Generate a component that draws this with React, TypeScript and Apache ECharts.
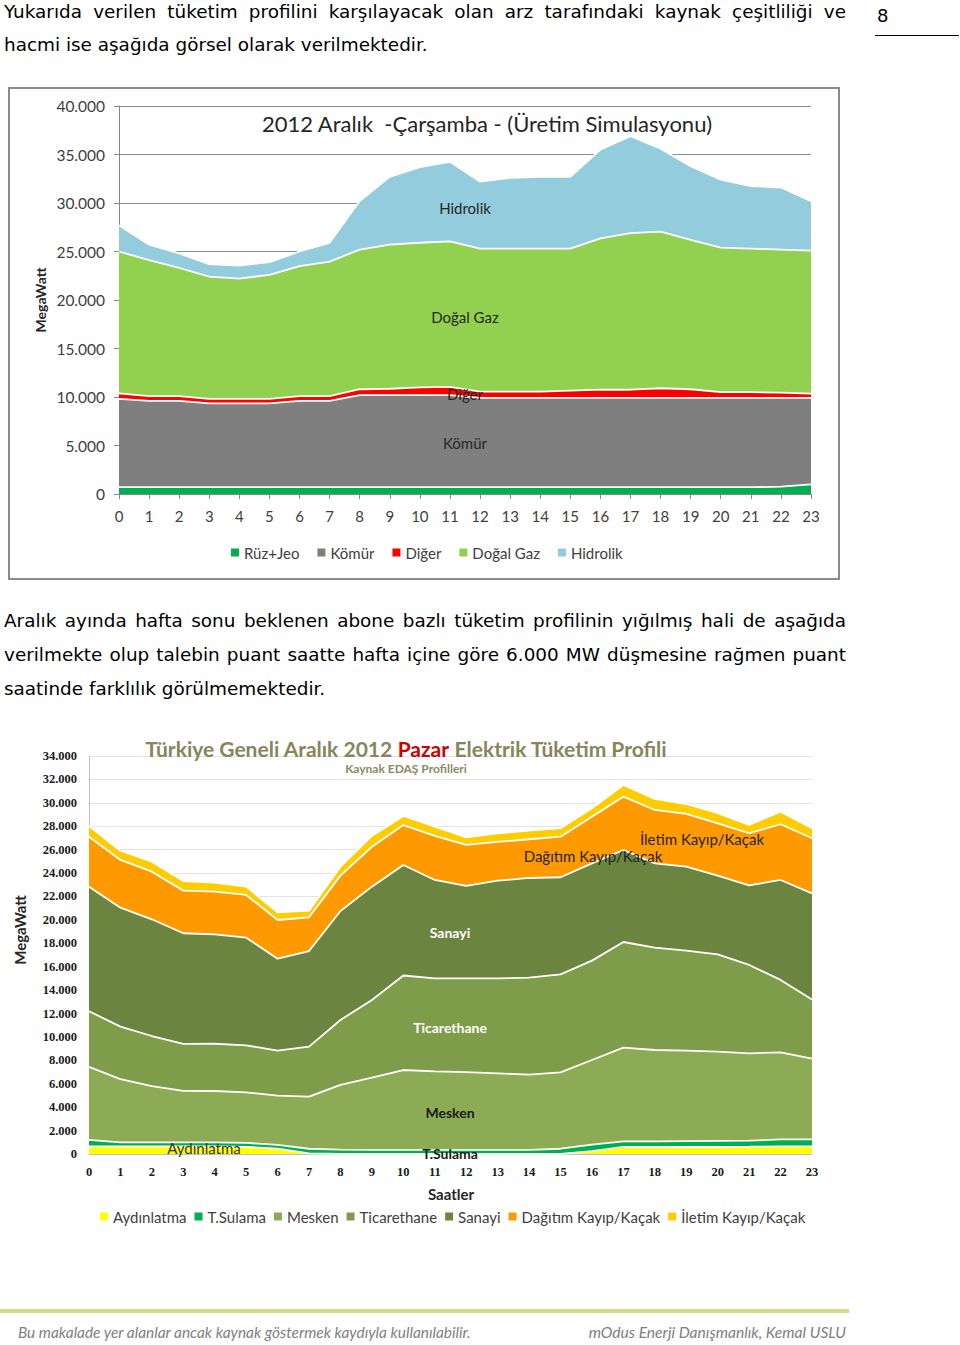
import React, { useEffect, useRef } from "react";
import * as echarts from "echarts";

// ---------- Chart 1 data: 2012 Aralık Çarşamba (Üretim Simulasyonu) ----------
const hours = ["0","1","2","3","4","5","6","7","8","9","10","11","12","13","14","15","16","17","18","19","20","21","22","23"];
const c1Names = ["Rüz+Jeo", "Kömür", "Diğer", "Doğal Gaz", "Hidrolik"];
const ruzJeo = [700,700,700,700,700,700,700,700,700,700,700,700,700,700,700,700,700,700,700,700,700,700,750,1000];
const komur = [9100,8900,8900,8650,8650,8650,8900,8900,9500,9500,9500,9500,9200,9200,9200,9200,9200,9200,9200,9200,9200,9200,9150,8900];
const diger = [580,500,500,450,450,450,500,500,600,650,800,850,650,650,650,750,850,850,1000,900,600,600,550,450];
const dogalGaz = [14620,14000,13200,12600,12400,12800,13400,13850,14400,14850,14900,15000,14750,14750,14750,14650,15600,16150,16150,15400,14900,14800,14750,14750];
const hidrolik = [2700,1600,1500,1300,1350,1300,1500,1950,5000,7000,7800,8200,6900,7300,7400,7400,9150,10000,8550,7600,7000,6450,6400,5100];
const c1Values = [ruzJeo, komur, diger, dogalGaz, hidrolik];
const c1Colors = ["#00B050", "#7F7F7F", "#FF0000", "#92D050", "#93CDDD"];

// ---------- Chart 2 data: Türkiye Geneli Aralık 2012 Pazar ----------
const c2Names = ["Aydınlatma", "T.Sulama", "Mesken", "Ticarethane", "Sanayi", "Dağıtım Kayıp/Kaçak", "İletim Kayıp/Kaçak"];
const aydinlatma = [650,650,650,650,650,600,450,50,0,0,0,0,0,0,0,0,250,600,600,600,600,620,650,650];
const tSulama = [550,350,350,350,350,350,330,400,380,350,350,350,350,350,350,450,550,480,480,500,520,520,600,600];
const mesken = [6250,5400,4800,4400,4380,4320,4200,4450,5520,6170,6825,6700,6650,6540,6430,6530,7230,8000,7805,7730,7620,7460,7440,6890];
const ticarethane = [4750,4480,4280,4000,4040,4010,3850,4270,5550,6630,8075,7960,8010,8120,8280,8370,8490,9030,8745,8540,8320,7550,6180,5060];
const sanayi = [10640,10160,9970,9460,9350,9200,7860,8170,9310,9690,9440,8400,7890,8340,8520,8290,8310,7860,7200,7180,6720,6800,8540,9070];
const dagitim = [4270,4080,4070,3640,3640,3650,3300,2880,3020,3410,3410,3760,3500,3310,3310,3470,3990,4560,4560,4500,4470,4450,4760,4700];
const iletim = [910,790,850,820,770,710,660,570,770,920,780,790,650,740,730,720,720,990,940,850,860,710,1080,860];
const c2Values = [aydinlatma, tSulama, mesken, ticarethane, sanayi, dagitim, iletim];
const c2Colors = ["#FFFF00", "#00B050", "#8DAA55", "#7E9C4A", "#6B8540", "#FF9900", "#FFCC00"];

const fmt = (v: number) => (v === 0 ? "0" : String(v).replace(/\B(?=(\d{3})+(?!\d))/g, "."));

function makeSeries(names: string[], values: number[][], colors: string[]) {
  return names.map((name, i) => ({
    name,
    type: "line",
    stack: "total",
    data: values[i],
    symbol: "none",
    z: 10 + (names.length - i),
    lineStyle: { color: "#ffffff", width: 1.8 },
    itemStyle: { color: colors[i] },
    areaStyle: { color: colors[i], opacity: 1 },
    emphasis: { disabled: true },
  }));
}

const option1: any = {
  animation: false,
  textStyle: { fontFamily: "Lato" },
  grid: { left: 111, right: 29, top: 19, bottom: 86 },
  legend: {
    left: 218,
    top: 453,
    icon: "rect",
    itemWidth: 8,
    itemHeight: 8,
    itemGap: 18,
    textStyle: { color: "#404040", fontSize: 15, fontFamily: "Lato" },
    data: c1Names,
  },
  xAxis: {
    type: "category",
    data: hours,
    boundaryGap: false,
    axisLine: { lineStyle: { color: "#868686" } },
    axisTick: { show: true, length: 5, lineStyle: { color: "#868686" } },
    axisLabel: { color: "#404040", fontSize: 15, margin: 14 },
    splitLine: { show: false },
  },
  yAxis: {
    type: "value",
    min: 0,
    max: 40000,
    interval: 5000,
    axisLine: { show: true, lineStyle: { color: "#868686" } },
    axisTick: { show: true, length: 5, lineStyle: { color: "#868686" } },
    axisLabel: { color: "#404040", fontSize: 15.5, margin: 14, formatter: fmt },
    splitLine: { lineStyle: { color: "#8C8C8C" } },
  },
  graphic: [
    { type: "rect", shape: { x: 1, y: 1, width: 830, height: 491 }, style: { fill: "none", stroke: "#8A8A8A", lineWidth: 2 }, z: 100 },
    { type: "text", x: 479, y: 36, z: 100, style: { text: "2012 Aralık  -Çarşamba - (Üretim Simulasyonu)", fill: "#262626", font: "22px Lato", align: "center", verticalAlign: "middle" } },
    { type: "text", x: 32, y: 213, rotation: Math.PI / 2, z: 100, style: { text: "MegaWatt", fill: "#262626", font: "bold 14px Lato", align: "center", verticalAlign: "middle" } },
    { type: "text", x: 457, y: 121, z: 100, style: { text: "Hidrolik", fill: "#262626", font: "15px Lato", align: "center", verticalAlign: "middle" } },
    { type: "text", x: 457, y: 230, z: 100, style: { text: "Doğal Gaz", fill: "#262626", font: "15px Lato", align: "center", verticalAlign: "middle" } },
    { type: "text", x: 457, y: 307, z: 100, style: { text: "Diğer", fill: "#262626", font: "15px Lato", align: "center", verticalAlign: "middle" } },
    { type: "text", x: 457, y: 356, z: 100, style: { text: "Kömür", fill: "#262626", font: "15px Lato", align: "center", verticalAlign: "middle" } },
  ],
  series: makeSeries(c1Names, c1Values, c1Colors),
};

const serif = '"Liberation Serif", "DejaVu Serif", serif';

const option2: any = {
  animation: false,
  textStyle: { fontFamily: "Lato" },
  grid: { left: 89, right: 48, top: 26, bottom: 86 },
  legend: {
    left: 95,
    top: 474,
    icon: "rect",
    itemWidth: 8,
    itemHeight: 8,
    itemGap: 8,
    textStyle: { color: "#404040", fontSize: 15, fontFamily: "Lato" },
    data: c2Names,
  },
  xAxis: {
    type: "category",
    data: hours,
    boundaryGap: false,
    axisLine: { lineStyle: { color: "#BFBFBF" } },
    axisTick: { show: false },
    axisLabel: { color: "#1a1a1a", fontSize: 12.5, fontWeight: "bold", fontFamily: serif, margin: 11 },
    splitLine: { show: false },
  },
  yAxis: {
    type: "value",
    min: 0,
    max: 34000,
    interval: 2000,
    axisLine: { show: true, lineStyle: { color: "#BFBFBF" } },
    axisTick: { show: false },
    axisLabel: { color: "#1a1a1a", fontSize: 12.5, fontWeight: "bold", fontFamily: serif, margin: 12, formatter: fmt },
    splitLine: { lineStyle: { color: "#E3E3E3" } },
  },
  graphic: [
    {
      type: "text", x: 406, y: 18, z: 100,
      style: {
        text: "{a|Türkiye Geneli Aralık 2012 }{b|Pazar}{a| Elektrik Tüketim Profili}",
        align: "center", verticalAlign: "middle",
        rich: {
          a: { fill: "#86865A", font: "bold 21px Lato" },
          b: { fill: "#CC0000", font: "bold 21px Lato" },
        },
      },
    },
    { type: "text", x: 406, y: 38, z: 100, style: { text: "Kaynak EDAŞ Profilleri", fill: "#8A8A66", font: "bold 12px Lato", align: "center", verticalAlign: "middle" } },
    { type: "text", x: 20, y: 200, rotation: Math.PI / 2, z: 100, style: { text: "MegaWatt", fill: "#262626", font: "bold 15px Lato", align: "center", verticalAlign: "middle" } },
    { type: "text", x: 451, y: 464, z: 100, style: { text: "Saatler", fill: "#262626", font: "bold 15px Lato", align: "center", verticalAlign: "middle" } },
    { type: "text", x: 450, y: 202, z: 100, style: { text: "Sanayi", fill: "#ffffff", font: "bold 14px Lato", align: "center", verticalAlign: "middle" } },
    { type: "text", x: 450, y: 297, z: 100, style: { text: "Ticarethane", fill: "#ffffff", font: "bold 14px Lato", align: "center", verticalAlign: "middle" } },
    { type: "text", x: 450, y: 382, z: 100, style: { text: "Mesken", fill: "#1a1a1a", font: "bold 14px Lato", align: "center", verticalAlign: "middle" } },
    { type: "text", x: 450, y: 423, z: 100, style: { text: "T.Sulama", fill: "#1a1a1a", font: "bold 14px Lato", align: "center", verticalAlign: "middle" } },
    { type: "text", x: 204, y: 418, z: 100, style: { text: "Aydınlatma", fill: "#333333", font: "15px Lato", align: "center", verticalAlign: "middle" } },
    { type: "text", x: 593, y: 126, z: 100, style: { text: "Dağıtım Kayıp/Kaçak", fill: "#262626", font: "15px Lato", align: "center", verticalAlign: "middle" } },
    { type: "text", x: 702, y: 109, z: 100, style: { text: "İletim Kayıp/Kaçak", fill: "#262626", font: "15px Lato", align: "center", verticalAlign: "middle" } },
  ],
  series: makeSeries(c2Names, c2Values, c2Colors),
};

function EChart({ option, style }: { option: any; style: React.CSSProperties }) {
  const ref = useRef<HTMLDivElement>(null);
  useEffect(() => {
    const chart = echarts.init(ref.current!, null, { renderer: "svg" });
    chart.setOption(option);
    return () => chart.dispose();
  }, [option]);
  return <div ref={ref} style={style} />;
}

const bodyFont = '"DejaVu Sans", Verdana, sans-serif';

function Line({ text, y, last }: { text: string; y: number; last?: boolean }) {
  return (
    <div
      style={{
        position: "absolute",
        left: 4,
        top: y - 12,
        width: 842,
        height: 24,
        lineHeight: "24px",
        fontFamily: bodyFont,
        fontSize: 18.4,
        color: "#000",
        textAlign: "justify",
        textAlignLast: last ? "left" : "justify",
        whiteSpace: "nowrap",
      }}
    >
      {text}
    </div>
  );
}

export default function App() {
  return (
    <div style={{ position: "absolute", left: 0, top: 0, width: 960, height: 1345, background: "#fff", overflow: "hidden" }}>
      <Line y={12} text="Yukarıda verilen tüketim profilini karşılayacak olan arz tarafındaki kaynak çeşitliliği ve" />
      <Line y={45} last text="hacmi ise aşağıda görsel olarak verilmektedir." />
      <div style={{ position: "absolute", left: 877, top: 4, fontFamily: bodyFont, fontSize: 18, lineHeight: "24px" }}>8</div>
      <div style={{ position: "absolute", left: 875, top: 35, width: 84, height: 1, background: "#000" }} />

      <EChart option={option1} style={{ position: "absolute", left: 8, top: 87, width: 832, height: 493 }} />

      <Line y={621} text="Aralık ayında hafta sonu beklenen abone bazlı tüketim profilinin yığılmış hali de aşağıda" />
      <Line y={655} text="verilmekte olup talebin puant saatte hafta içine göre 6.000 MW düşmesine rağmen puant" />
      <Line y={689} last text="saatinde farklılık görülmemektedir." />

      <EChart option={option2} style={{ position: "absolute", left: 0, top: 730, width: 860, height: 510 }} />

      <div style={{ position: "absolute", left: 0, top: 1309, width: 849, height: 4, background: "#D4DA8A" }} />
      <div style={{ position: "absolute", left: 18, top: 1322, fontFamily: "Lato", fontStyle: "italic", fontSize: 15.4, color: "#808080", lineHeight: "20px", whiteSpace: "nowrap" }}>
        Bu makalade yer alanlar ancak kaynak göstermek kaydıyla kullanılabilir.
      </div>
      <div style={{ position: "absolute", left: 446, top: 1322, width: 400, textAlign: "right", fontFamily: "Lato", fontStyle: "italic", fontSize: 15.6, color: "#808080", lineHeight: "20px", whiteSpace: "nowrap" }}>
        mOdus Enerji Danışmanlık,  Kemal USLU
      </div>
    </div>
  );
}
